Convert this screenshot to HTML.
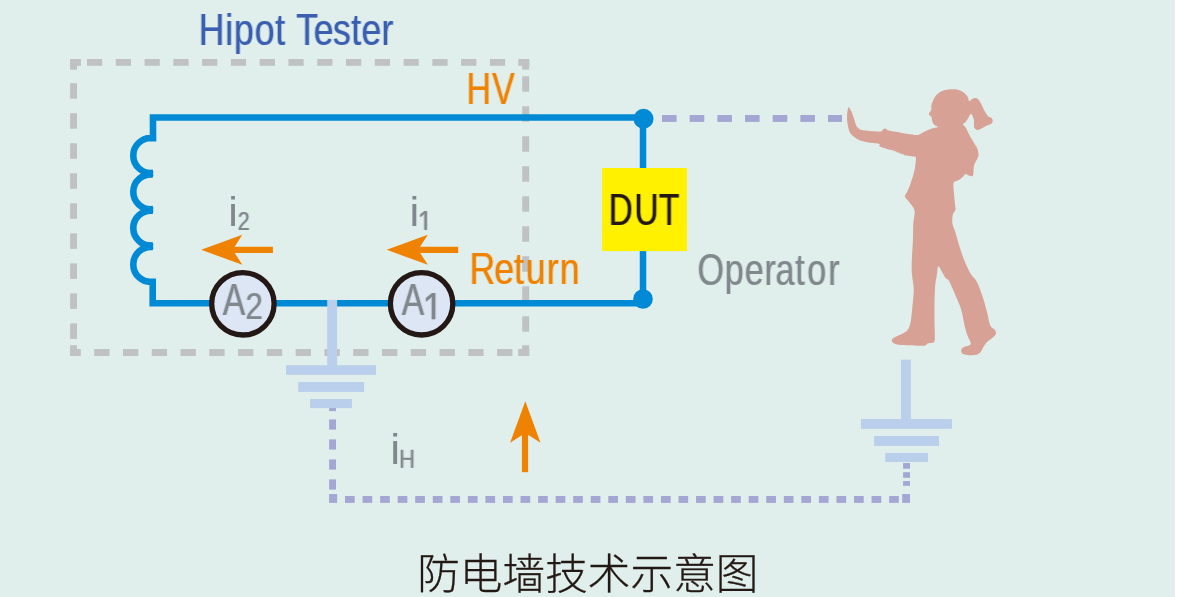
<!DOCTYPE html>
<html lang="zh"><head><meta charset="utf-8"><title>防电墙技术示意图</title>
<style>html,body{margin:0;padding:0;background:#fff}body{width:1177px;height:597px;overflow:hidden}svg{display:block}svg{will-change:transform}text{font-family:"Liberation Sans","Noto Sans CJK SC",sans-serif;font-kerning:none}</style></head><body>
<svg width="1177" height="597" viewBox="0 0 1177 597">
<rect x="0" y="0" width="1175" height="597" fill="#e0efeb"/>
<g fill="#bfc1c3">
<rect x="70.10" y="59.00" width="10.80" height="6.80" fill="#bfc1c3"/>
<rect x="70.10" y="59.00" width="6.90" height="10.70" fill="#bfc1c3"/>
<rect x="518.30" y="59.00" width="10.90" height="6.80" fill="#bfc1c3"/>
<rect x="522.20" y="59.00" width="7.00" height="10.60" fill="#bfc1c3"/>
<rect x="70.10" y="349.00" width="10.70" height="7.00" fill="#bfc1c3"/>
<rect x="70.10" y="345.20" width="6.90" height="10.80" fill="#bfc1c3"/>
<rect x="518.20" y="349.00" width="11.00" height="7.00" fill="#bfc1c3"/>
<rect x="522.20" y="345.30" width="7.00" height="10.70" fill="#bfc1c3"/>
<rect x="87.00" y="59.00" width="15.20" height="6.80" fill="#bfc1c3"/>
<rect x="115.78" y="59.00" width="15.20" height="6.80" fill="#bfc1c3"/>
<rect x="144.56" y="59.00" width="15.20" height="6.80" fill="#bfc1c3"/>
<rect x="173.34" y="59.00" width="15.20" height="6.80" fill="#bfc1c3"/>
<rect x="202.12" y="59.00" width="15.20" height="6.80" fill="#bfc1c3"/>
<rect x="230.90" y="59.00" width="15.20" height="6.80" fill="#bfc1c3"/>
<rect x="259.68" y="59.00" width="15.20" height="6.80" fill="#bfc1c3"/>
<rect x="288.46" y="59.00" width="15.20" height="6.80" fill="#bfc1c3"/>
<rect x="317.24" y="59.00" width="15.20" height="6.80" fill="#bfc1c3"/>
<rect x="346.02" y="59.00" width="15.20" height="6.80" fill="#bfc1c3"/>
<rect x="374.80" y="59.00" width="15.20" height="6.80" fill="#bfc1c3"/>
<rect x="403.58" y="59.00" width="15.20" height="6.80" fill="#bfc1c3"/>
<rect x="432.36" y="59.00" width="15.20" height="6.80" fill="#bfc1c3"/>
<rect x="461.14" y="59.00" width="15.20" height="6.80" fill="#bfc1c3"/>
<rect x="489.92" y="59.00" width="15.20" height="6.80" fill="#bfc1c3"/>
<rect x="94.20" y="349.00" width="15.30" height="7.00" fill="#bfc1c3"/>
<rect x="122.98" y="349.00" width="15.30" height="7.00" fill="#bfc1c3"/>
<rect x="151.76" y="349.00" width="15.30" height="7.00" fill="#bfc1c3"/>
<rect x="180.54" y="349.00" width="15.30" height="7.00" fill="#bfc1c3"/>
<rect x="209.32" y="349.00" width="15.30" height="7.00" fill="#bfc1c3"/>
<rect x="238.10" y="349.00" width="15.30" height="7.00" fill="#bfc1c3"/>
<rect x="266.88" y="349.00" width="15.30" height="7.00" fill="#bfc1c3"/>
<rect x="295.66" y="349.00" width="15.30" height="7.00" fill="#bfc1c3"/>
<rect x="324.44" y="349.00" width="15.30" height="7.00" fill="#bfc1c3"/>
<rect x="353.22" y="349.00" width="15.30" height="7.00" fill="#bfc1c3"/>
<rect x="382.00" y="349.00" width="15.30" height="7.00" fill="#bfc1c3"/>
<rect x="410.78" y="349.00" width="15.30" height="7.00" fill="#bfc1c3"/>
<rect x="439.56" y="349.00" width="15.30" height="7.00" fill="#bfc1c3"/>
<rect x="468.34" y="349.00" width="15.30" height="7.00" fill="#bfc1c3"/>
<rect x="497.12" y="349.00" width="15.30" height="7.00" fill="#bfc1c3"/>
<rect x="70.10" y="83.20" width="6.90" height="15.50" fill="#bfc1c3"/>
<rect x="70.10" y="113.23" width="6.90" height="15.50" fill="#bfc1c3"/>
<rect x="70.10" y="143.26" width="6.90" height="15.50" fill="#bfc1c3"/>
<rect x="70.10" y="173.29" width="6.90" height="15.50" fill="#bfc1c3"/>
<rect x="70.10" y="203.32" width="6.90" height="15.50" fill="#bfc1c3"/>
<rect x="70.10" y="233.35" width="6.90" height="15.50" fill="#bfc1c3"/>
<rect x="70.10" y="263.38" width="6.90" height="15.50" fill="#bfc1c3"/>
<rect x="70.10" y="293.41" width="6.90" height="15.50" fill="#bfc1c3"/>
<rect x="70.10" y="323.44" width="6.90" height="15.50" fill="#bfc1c3"/>
<rect x="522.20" y="76.25" width="7.00" height="15.50" fill="#bfc1c3"/>
<rect x="522.20" y="106.25" width="7.00" height="15.50" fill="#bfc1c3"/>
<rect x="522.20" y="136.25" width="7.00" height="15.50" fill="#bfc1c3"/>
<rect x="522.20" y="166.25" width="7.00" height="15.50" fill="#bfc1c3"/>
<rect x="522.20" y="196.25" width="7.00" height="15.50" fill="#bfc1c3"/>
<rect x="522.20" y="226.25" width="7.00" height="15.50" fill="#bfc1c3"/>
<rect x="522.20" y="256.25" width="7.00" height="15.50" fill="#bfc1c3"/>
<rect x="522.20" y="286.25" width="7.00" height="15.50" fill="#bfc1c3"/>
<rect x="522.20" y="316.25" width="7.00" height="15.50" fill="#bfc1c3"/>
</g>
<rect x="662.00" y="115.00" width="14.60" height="6.95" fill="#a4a7d4"/>
<rect x="689.67" y="115.00" width="14.60" height="6.95" fill="#a4a7d4"/>
<rect x="717.34" y="115.00" width="14.60" height="6.95" fill="#a4a7d4"/>
<rect x="745.01" y="115.00" width="14.60" height="6.95" fill="#a4a7d4"/>
<rect x="772.68" y="115.00" width="14.60" height="6.95" fill="#a4a7d4"/>
<rect x="800.35" y="115.00" width="14.60" height="6.95" fill="#a4a7d4"/>
<rect x="828.02" y="115.00" width="14.00" height="6.95" fill="#a4a7d4"/>
<rect x="329.10" y="407.70" width="6.90" height="3.40" fill="#a4a7d4"/>
<rect x="329.10" y="419.40" width="6.90" height="10.20" fill="#a4a7d4"/>
<rect x="329.10" y="439.40" width="6.90" height="10.20" fill="#a4a7d4"/>
<rect x="329.10" y="459.40" width="6.90" height="10.20" fill="#a4a7d4"/>
<rect x="329.10" y="479.40" width="6.90" height="10.20" fill="#a4a7d4"/>
<rect x="329.10" y="494.00" width="8.00" height="8.90" fill="#a4a7d4"/>
<rect x="345.00" y="496.00" width="9.70" height="6.90" fill="#a4a7d4"/>
<rect x="362.55" y="496.00" width="9.70" height="6.90" fill="#a4a7d4"/>
<rect x="380.10" y="496.00" width="9.70" height="6.90" fill="#a4a7d4"/>
<rect x="397.66" y="496.00" width="9.70" height="6.90" fill="#a4a7d4"/>
<rect x="415.21" y="496.00" width="9.70" height="6.90" fill="#a4a7d4"/>
<rect x="432.76" y="496.00" width="9.70" height="6.90" fill="#a4a7d4"/>
<rect x="450.31" y="496.00" width="9.70" height="6.90" fill="#a4a7d4"/>
<rect x="467.86" y="496.00" width="9.70" height="6.90" fill="#a4a7d4"/>
<rect x="485.42" y="496.00" width="9.70" height="6.90" fill="#a4a7d4"/>
<rect x="502.97" y="496.00" width="9.70" height="6.90" fill="#a4a7d4"/>
<rect x="520.52" y="496.00" width="9.70" height="6.90" fill="#a4a7d4"/>
<rect x="538.07" y="496.00" width="9.70" height="6.90" fill="#a4a7d4"/>
<rect x="555.62" y="496.00" width="9.70" height="6.90" fill="#a4a7d4"/>
<rect x="573.18" y="496.00" width="9.70" height="6.90" fill="#a4a7d4"/>
<rect x="590.73" y="496.00" width="9.70" height="6.90" fill="#a4a7d4"/>
<rect x="608.28" y="496.00" width="9.70" height="6.90" fill="#a4a7d4"/>
<rect x="625.83" y="496.00" width="9.70" height="6.90" fill="#a4a7d4"/>
<rect x="643.38" y="496.00" width="9.70" height="6.90" fill="#a4a7d4"/>
<rect x="660.94" y="496.00" width="9.70" height="6.90" fill="#a4a7d4"/>
<rect x="678.49" y="496.00" width="9.70" height="6.90" fill="#a4a7d4"/>
<rect x="696.04" y="496.00" width="9.70" height="6.90" fill="#a4a7d4"/>
<rect x="713.59" y="496.00" width="9.70" height="6.90" fill="#a4a7d4"/>
<rect x="731.14" y="496.00" width="9.70" height="6.90" fill="#a4a7d4"/>
<rect x="748.70" y="496.00" width="9.70" height="6.90" fill="#a4a7d4"/>
<rect x="766.25" y="496.00" width="9.70" height="6.90" fill="#a4a7d4"/>
<rect x="783.80" y="496.00" width="9.70" height="6.90" fill="#a4a7d4"/>
<rect x="801.35" y="496.00" width="9.70" height="6.90" fill="#a4a7d4"/>
<rect x="818.90" y="496.00" width="9.70" height="6.90" fill="#a4a7d4"/>
<rect x="836.46" y="496.00" width="9.70" height="6.90" fill="#a4a7d4"/>
<rect x="854.01" y="496.00" width="9.70" height="6.90" fill="#a4a7d4"/>
<rect x="871.56" y="496.00" width="9.70" height="6.90" fill="#a4a7d4"/>
<rect x="889.11" y="496.00" width="9.70" height="6.90" fill="#a4a7d4"/>
<rect x="902.20" y="494.00" width="7.80" height="8.90" fill="#a4a7d4"/>
<rect x="903.10" y="463.00" width="6.90" height="5.70" fill="#a4a7d4"/>
<rect x="903.10" y="472.20" width="6.90" height="5.60" fill="#a4a7d4"/>
<rect x="903.10" y="481.10" width="6.90" height="4.70" fill="#a4a7d4"/>
<rect x="147.50" y="170.00" width="5.45" height="7.30" fill="#008ad6"/>
<rect x="147.50" y="206.30" width="5.45" height="7.30" fill="#008ad6"/>
<rect x="147.50" y="242.60" width="5.45" height="7.30" fill="#008ad6"/>
<path d="M643,117.45 H153.0 V141.4 M153.0,138.20 A17.45,17.45 0 1 0 153.0,172.80 M153.0,174.50 A17.45,17.45 0 1 0 153.0,209.10 M153.0,210.80 A17.45,17.45 0 1 0 153.0,245.40 M153.0,247.10 A17.45,17.45 0 1 0 153.0,281.70 M152.7,278.50 V303.25 H643 " fill="none" stroke="#008ad6" stroke-width="6.6" stroke-linejoin="miter"/>
<path d="M643,117.45 V299" fill="none" stroke="#008ad6" stroke-width="6.5"/>
<circle cx="643.5" cy="118.8" r="10" fill="#008ad6"/>
<circle cx="643" cy="299" r="9.8" fill="#008ad6"/>
<rect x="327.20" y="299.90" width="9.90" height="66.10" fill="#b9cfec"/>
<rect x="286.00" y="365.20" width="90.00" height="9.60" fill="#b9cfec"/>
<rect x="298.20" y="382.10" width="65.90" height="9.80" fill="#b9cfec"/>
<rect x="310.10" y="399.00" width="41.80" height="9.10" fill="#b9cfec"/>
<rect x="901.00" y="359.70" width="9.90" height="60.30" fill="#b9cfec"/>
<rect x="861.00" y="419.00" width="90.90" height="9.80" fill="#b9cfec"/>
<rect x="874.10" y="436.00" width="64.90" height="9.90" fill="#b9cfec"/>
<rect x="885.20" y="452.90" width="42.80" height="9.10" fill="#b9cfec"/>
<circle cx="242.9" cy="303.8" r="31.2" fill="#dde6f5" stroke="#231815" stroke-width="5.3"/>
<circle cx="421.6" cy="303.8" r="31.2" fill="#dde6f5" stroke="#231815" stroke-width="5.3"/>
<rect x="602.10" y="168.00" width="84.90" height="83.10" fill="#fff100"/>
<path d="M272.9,246.75 H231.2 V252.95 H272.9Z" fill="#ef8200"/>
<path d="M201.2,249.85 L242.29999999999998,234.85 L232.7,249.85 L242.29999999999998,264.85Z" fill="#ef8200"/>
<path d="M458.2,246.75 H416.7 V252.95 H458.2Z" fill="#ef8200"/>
<path d="M386.7,249.85 L427.8,234.85 L418.2,249.85 L427.8,264.85Z" fill="#ef8200"/>
<path d="M521.9,472.2 V430 H528.1 V472.2Z" fill="#ef8200"/>
<path d="M525.3,401.3 L540.5,442.8 L525.3,433.1 L510.1,442.8Z" fill="#ef8200"/>
<path d="M848.4,107.6C848.9,106.6 849.6,108.3 850.2,109.2C850.8,110.2 851.6,111.6 852.2,113.3C852.9,115.0 853.6,117.5 854.3,119.4C854.9,121.3 855.4,123.4 856.0,124.9C856.7,126.3 857.4,127.4 858.4,128.3C859.3,129.1 859.8,129.6 861.8,130.0C863.7,130.5 866.7,130.8 869.9,131.0C873.1,131.2 878.6,131.7 880.8,131.4C883.0,131.1 882.4,129.7 883.2,129.2C884.0,128.8 884.6,128.4 885.5,128.7C886.5,128.9 886.8,130.0 888.9,130.6C891.1,131.2 895.3,131.8 898.5,132.3C901.6,132.9 905.0,133.5 908.0,134.0C910.9,134.4 914.3,134.9 916.1,135.1C917.9,135.2 917.5,135.4 918.8,134.8C920.2,134.2 922.2,132.7 924.3,131.7C926.3,130.6 928.8,129.5 931.1,128.7C933.3,127.9 937.2,127.4 937.9,126.9C938.6,126.4 936.0,126.1 935.2,125.5C934.4,125.0 933.6,124.3 933.1,123.5C932.6,122.7 932.5,121.9 932.2,120.8C931.9,119.7 931.8,117.6 931.4,116.7C930.9,115.8 930.1,116.2 929.7,115.6C929.3,115.1 928.9,114.0 929.0,113.3C929.2,112.6 930.0,111.9 930.4,111.3C930.8,110.6 931.2,110.2 931.4,109.2C931.5,108.2 931.1,106.6 931.4,105.1C931.6,103.7 932.3,102.1 933.1,100.4C934.0,98.7 935.0,96.5 936.5,95.0C938.0,93.4 939.9,92.1 942.0,91.1C944.0,90.2 946.7,89.8 948.8,89.5C950.8,89.2 952.4,89.1 954.2,89.2C956.0,89.4 957.9,89.6 959.6,90.2C961.3,90.8 963.0,91.8 964.4,92.9C965.7,94.0 967.0,95.6 967.8,97.0C968.6,98.4 968.6,100.6 969.1,101.1C969.7,101.5 970.3,100.2 971.2,99.7C972.1,99.2 973.6,98.3 974.6,98.1C975.6,97.9 976.4,98.0 977.3,98.6C978.2,99.2 979.1,100.3 980.0,101.8C980.9,103.2 981.8,105.4 982.7,107.2C983.6,109.0 984.6,111.1 985.5,112.6C986.4,114.2 987.3,115.6 988.2,116.4C989.1,117.2 990.2,116.9 990.9,117.4C991.6,117.9 992.3,118.6 992.5,119.4C992.8,120.3 992.8,121.6 992.3,122.4C991.8,123.3 990.9,123.8 989.5,124.6C988.2,125.3 985.7,126.1 984.1,126.9C982.5,127.7 981.2,128.7 980.0,129.2C978.9,129.7 978.2,130.0 977.3,129.9C976.4,129.7 975.2,129.1 974.6,128.3C974.0,127.4 974.0,126.2 973.9,124.9C973.8,123.5 974.1,121.6 973.9,120.1C973.7,118.6 973.0,117.0 972.5,116.0C972.1,115.0 971.6,114.1 971.2,114.0C970.7,113.8 970.4,114.3 969.8,115.1C969.3,115.9 968.6,117.5 967.8,118.7C967.0,120.0 965.9,121.5 965.1,122.4C964.3,123.3 962.9,123.3 963.0,124.2C963.1,125.0 965.0,126.3 965.7,127.6C966.5,128.8 967.0,130.1 967.8,131.7C968.6,133.2 969.5,135.3 970.5,137.1C971.5,138.9 972.9,140.7 973.9,142.5C974.9,144.3 975.9,146.2 976.6,148.0C977.4,149.8 978.5,153.8 978.4,153.4C978.3,153.0 975.9,146.0 975.8,145.4C975.8,144.9 977.4,148.6 977.9,150.2C978.3,151.8 978.7,153.5 978.6,155.0C978.4,156.4 977.8,157.8 977.2,159.0C976.6,160.3 975.7,161.2 975.2,162.4C974.6,163.7 974.1,165.0 973.8,166.5C973.5,168.0 973.7,169.7 973.5,171.3C973.3,172.9 973.5,175.3 972.7,176.0C972.0,176.8 970.2,176.0 969.0,175.6C967.9,175.3 966.7,173.8 965.6,174.0C964.6,174.2 964.1,175.7 962.9,176.7C961.8,177.7 960.3,179.2 958.8,180.1C957.4,181.0 955.0,181.1 954.1,182.1C953.2,183.2 953.4,184.2 953.4,186.2C953.4,188.3 953.9,191.7 954.1,194.4C954.3,197.1 954.5,199.9 954.8,202.5C955.0,205.1 955.8,208.2 955.4,210.0C955.1,211.8 953.0,213.0 952.7,213.4C952.5,213.9 953.8,212.4 953.8,212.7C953.8,213.1 952.9,213.6 952.7,215.4C952.5,217.3 952.0,220.9 952.4,223.6C952.8,226.3 954.3,228.8 955.2,231.8C956.1,234.7 956.9,237.9 957.9,241.3C958.9,244.7 960.0,248.5 961.3,252.1C962.5,255.8 963.8,259.4 965.4,263.0C966.9,266.6 969.0,271.1 970.8,273.9C972.5,276.7 974.4,277.6 975.8,280.0C977.3,282.4 978.4,285.2 979.6,288.2C980.8,291.1 982.0,294.5 983.0,297.7C984.0,300.8 985.0,304.2 985.7,307.2C986.5,310.1 987.2,312.9 987.8,315.3C988.4,317.8 988.6,320.2 989.1,322.1C989.7,324.1 990.3,325.7 991.2,326.9C992.1,328.1 993.8,328.7 994.6,329.6C995.4,330.5 995.8,331.4 995.9,332.3C996.1,333.2 995.8,334.2 995.3,335.1C994.7,336.0 993.9,336.6 992.5,337.8C991.2,338.9 988.6,340.4 987.1,341.9C985.6,343.3 984.7,345.0 983.7,346.6C982.7,348.2 981.9,350.1 981.0,351.4C980.1,352.6 979.4,353.5 978.3,354.1C977.1,354.7 976.0,354.9 974.2,355.0C972.4,355.2 969.3,355.3 967.4,355.0C965.5,354.8 963.7,354.3 962.6,353.7C961.6,353.1 961.4,352.2 961.3,351.4C961.1,350.5 961.2,349.4 961.7,348.7C962.1,347.9 962.8,347.4 964.0,346.9C965.2,346.4 967.6,346.1 968.8,345.5C969.9,344.9 970.9,344.6 970.8,343.2C970.7,341.8 969.0,339.5 968.1,337.1C967.2,334.7 966.1,331.7 965.4,328.9C964.6,326.2 964.2,323.5 963.6,320.8C963.0,318.1 962.6,315.1 962.0,312.6C961.3,310.1 960.8,308.3 959.9,305.8C959.0,303.3 957.8,300.6 956.5,297.7C955.3,294.7 953.8,291.1 952.4,288.2C951.1,285.2 949.5,281.7 948.4,280.0C947.2,278.3 946.8,279.4 945.6,278.0C944.5,276.5 942.8,273.1 941.6,271.2C940.3,269.2 939.0,265.7 938.2,266.4C937.4,267.1 937.3,272.4 936.8,275.3C936.4,278.1 935.8,280.4 935.4,283.4C935.1,286.5 934.9,289.6 934.8,293.6C934.6,297.6 934.5,302.7 934.5,307.2C934.5,311.7 934.5,316.3 934.5,320.8C934.5,325.3 934.8,330.9 934.8,334.4C934.7,337.9 935.2,340.4 934.1,341.9C933.0,343.3 929.4,342.6 928.0,343.2C926.5,343.8 926.8,345.1 925.3,345.5C923.7,346.0 920.7,345.8 918.5,345.8C916.2,345.8 914.4,345.4 911.7,345.3C908.9,345.1 904.7,345.2 902.1,345.0C899.5,344.8 897.6,344.6 896.0,344.2C894.4,343.7 893.3,343.0 892.6,342.3C891.9,341.5 891.7,340.6 891.9,339.8C892.2,339.1 892.7,338.6 894.0,337.8C895.2,337.0 897.6,336.0 899.4,335.1C901.2,334.2 903.4,333.4 904.9,332.3C906.3,331.3 907.4,330.4 908.3,328.9C909.2,327.5 909.8,325.5 910.3,323.5C910.8,321.5 911.0,319.4 911.4,316.7C911.7,314.0 912.0,310.4 912.3,307.2C912.7,304.0 913.1,300.8 913.3,297.7C913.5,294.5 913.9,292.1 913.7,288.2C913.5,284.2 912.3,277.9 911.9,273.9C911.6,269.9 911.6,268.2 911.7,264.4C911.7,260.5 912.1,255.3 912.3,250.8C912.6,246.3 912.9,241.7 913.0,237.2C913.2,232.7 913.0,227.8 913.3,223.6C913.6,219.4 914.8,214.9 914.7,212.1C914.6,209.2 913.6,208.4 912.6,206.6C911.6,204.8 909.8,202.9 908.5,201.2C907.3,199.5 905.1,198.0 904.9,196.4C904.7,194.8 906.2,193.8 907.2,191.7C908.1,189.5 909.5,186.7 910.6,183.5C911.7,180.3 913.1,176.0 914.0,172.6C914.8,169.2 915.3,165.7 915.6,163.1C915.9,160.5 916.3,158.1 915.6,157.0C914.9,155.9 913.1,156.7 911.3,156.3C909.4,156.0 907.0,155.7 904.5,155.0C902.0,154.2 899.0,152.6 896.3,151.6C893.6,150.5 886.7,148.2 888.2,148.8C889.6,149.5 903.8,154.9 905.3,155.4C906.7,156.0 900.3,153.2 897.1,152.1C893.9,150.9 889.2,149.6 886.2,148.7C883.3,147.7 880.6,147.1 879.4,146.3C878.3,145.5 881.0,144.5 879.4,143.9C877.8,143.3 873.1,143.4 869.9,142.8C866.7,142.2 863.1,141.6 860.4,140.5C857.7,139.4 855.4,137.9 853.6,136.4C851.8,134.9 850.5,133.8 849.5,131.7C848.5,129.5 847.9,126.2 847.5,123.5C847.1,120.8 846.9,118.0 847.1,115.3C847.2,112.7 847.9,108.6 848.4,107.6Z" fill="#d8a196"/>
<defs><filter id="hb" x="-2%" y="-2%" width="104%" height="104%" color-interpolation-filters="sRGB"><feOffset in="SourceGraphic" dx="1" dy="0" result="r"/><feOffset in="SourceGraphic" dx="-1" dy="0" result="l"/><feMerge result="lr"><feMergeNode in="l"/><feMergeNode in="r"/></feMerge><feComponentTransfer in="lr" result="lr2"><feFuncA type="linear" slope="0.3"/></feComponentTransfer><feMerge><feMergeNode in="lr2"/><feMergeNode in="SourceGraphic"/></feMerge></filter></defs>
<g filter="url(#hb)">
<text transform="translate(0.00,45.10) scale(0.7953,1.0000)" x="249.88 283.1 294.22 320.25 346.23 358.67 372.41 394.41 418.82 441.66 454.45 479.85" font-size="44.77" fill="#3b5fb0">Hipot Tester</text>
<text transform="translate(0.00,104.00) scale(0.7539,1.0000)" x="618.82 652.7" font-size="44.91" fill="#ef8200">HV</text>
<text transform="translate(0.00,284.10) scale(0.8051,1.0000)" x="583.14 613.92 638.38 653.04 679.02 695.14" font-size="44.33" fill="#ef8200">Return</text>
<text transform="translate(0.00,285.10) scale(0.7593,1.0000)" x="918.78 954.59 980.88 1006.79 1021.44 1047.3 1063.09 1090.88" font-size="44.91" fill="#81888d">Operator</text>
<text transform="translate(0.00,225.00) scale(0.7417,1.0000)" x="820.7 855.51 888.55" font-size="44.77" fill="#231815">DUT</text>
<text transform="translate(222.73,314.80) scale(0.7561,1.0000)" font-size="44.48" fill="#81888d">A</text>
<text transform="translate(245.43,319.10) scale(0.8535,1.0000)" font-size="36.52" fill="#81888d">2</text>
<text transform="translate(401.63,314.85) scale(0.7549,1.0000)" font-size="44.55" fill="#81888d">A</text>
<clipPath id="c1"><rect x="424.20" y="291.40" width="13.10" height="27.90"/></clipPath>
<g clip-path="url(#c1)"><text transform="translate(422.61,323.69) scale(0.9922,1.1693)" font-size="37.65" fill="#81888d">1</text></g>
<text transform="translate(237.72,230.00) scale(0.8438,1.0000)" font-size="25.49" fill="#81888d">2</text>
<clipPath id="c2"><rect x="418.30" y="210.20" width="10.50" height="19.80"/></clipPath>
<g clip-path="url(#c2)"><text transform="translate(417.73,233.40) scale(1.0314,1.1912)" font-size="25.87" fill="#81888d">1</text></g>
<text transform="translate(399.09,467.80) scale(0.8859,1.0000)" font-size="24.86" fill="#81888d">H</text>
</g>
<text transform="translate(228.36,226.00) scale(1.0408,1.0000)" font-size="41.54" fill="#81888d">i</text>
<text transform="translate(409.52,226.00) scale(1.0545,1.0000)" font-size="41.54" fill="#81888d">i</text>
<text transform="translate(390.18,464.00) scale(1.0542,1.0000)" font-size="42.09" fill="#81888d">i</text>
<text transform="translate(417.20,588.50) scale(1.0160,1.0000)" font-size="42" fill="#231815" font-weight="300" stroke="#231815" stroke-width="0.3">防电墙技术示意图</text>
</svg>
</body></html>
